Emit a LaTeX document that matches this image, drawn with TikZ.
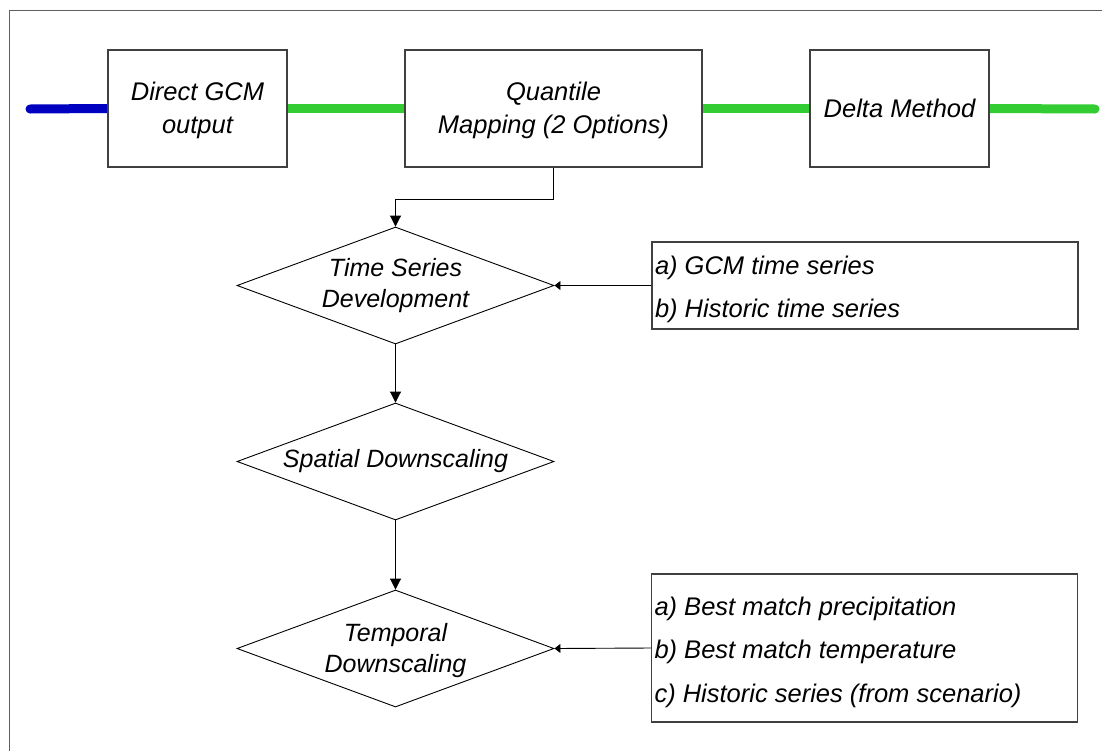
\documentclass[tikz,border=0pt]{standalone}
\usepackage{fontspec}
\setmainfont{Liberation Sans}
\usetikzlibrary{shapes.geometric,arrows.meta,backgrounds}
\definecolor{lineblue}{HTML}{0000C0}
\definecolor{linegreen}{HTML}{33CC33}
\definecolor{edgegray}{HTML}{404040}
\definecolor{framegray}{HTML}{606060}
\newcommand{\topstrut}{\rule{0pt}{23pt}}
\begin{document}
\begin{tikzpicture}[x=1pt,y=-1pt,
  topbox/.style={draw=edgegray,line width=1.4pt,fill=white,minimum height=117pt,inner sep=0pt,align=center,font=\itshape\fontsize{25.5}{33}\selectfont},
  decision/.style={diamond,draw=black,line width=0.9pt,fill=white,minimum width=317pt,minimum height=117pt,inner sep=0pt},
  dtext/.style={align=center,font=\itshape\fontsize{25}{30.5}\selectfont,inner sep=0pt},
  listbox/.style={draw=edgegray,line width=1.4pt,fill=white,minimum width=426pt,inner sep=0pt},
  listtext/.style={align=left,inner sep=0pt,font=\itshape\fontsize{25.5}{43.5}\selectfont},
  thick line/.style={line width=9pt},
  downarrow/.style={draw=black,line width=0.9pt,-{Triangle[length=11pt,width=11pt]}},
  sidearrow/.style={draw=black,line width=0.9pt,-{Triangle[length=6pt,width=9pt]}}
]
\useasboundingbox (0,0) rectangle (1102,750);
\clip (0,0) rectangle (1102,750);

% top row
\node[topbox,minimum width=179pt] (gcm) at (197.5,108.5) {\topstrut Direct GCM\\output};
\node[topbox,minimum width=297pt] (qm) at (553.5,108.5) {\topstrut Quantile\\Mapping (2 Options)};
\node[topbox,minimum width=179pt] (delta) at (899.5,108.5) {Delta Method};

\coordinate (bstart) at (30,109);
\coordinate (gend) at (1095,109);

% decisions
\node[decision] (ts) at (395.5,285.5) {};
\node[dtext] (tst) at (ts) {Time Series\\Development};
\node[decision] (sp) at (395.5,461.5) {};
\node[dtext] (spt) at (sp) {Spatial Downscaling};
\node[decision] (tmp) at (395.5,648.5) {};
\node[dtext] (tmpt) at ([yshift=-2pt]tmp.center) {Temporal\\Downscaling};

% option boxes
\node[listbox,minimum height=87pt] (opt1) at (865,285.5) {};
\node[listtext,anchor=west] (opt1t) at ([xshift=3.5pt,yshift=-4pt]opt1.west) {a) GCM time series\\b) Historic time series};
\node[listbox,minimum height=148pt] (opt2) at (864.5,648) {};
\node[listtext,anchor=west] (opt2t) at ([xshift=3.5pt,yshift=-4pt]opt2.west) {a) Best match precipitation\\b) Best match temperature\\c) Historic series (from scenario)};

\begin{scope}[on background layer]
  \draw[framegray,line width=1.5pt] (9.5,10.5) rectangle (1120,770);
  \draw[lineblue,thick line,line cap=round] (bstart) -- (gcm.west);
  \draw[linegreen,thick line] (gcm.east) -- (qm.west);
  \draw[linegreen,thick line] (qm.east) -- (delta.west);
  \draw[linegreen,thick line,line cap=round] (delta.east) -- (gend);
\end{scope}

% connectors
\draw[downarrow] (qm.south) -- ++(0,32) -| (ts.north);
\draw[downarrow] (ts.south) -- (sp.north);
\draw[downarrow] (sp.south) -- (tmp.north);
\draw[sidearrow] (opt1.west) -- (ts.east);
\draw[sidearrow] (opt2.west) -- (tmp.east);
\end{tikzpicture}
\end{document}
